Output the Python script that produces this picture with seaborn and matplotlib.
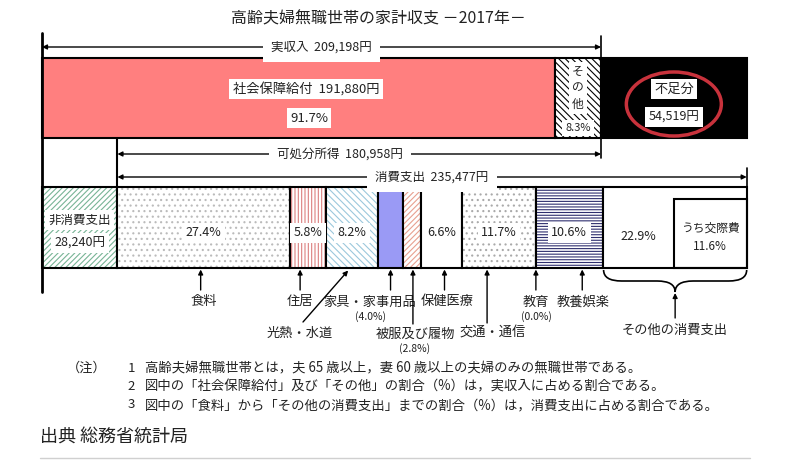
import numpy as np
import pandas as pd
import matplotlib
matplotlib.use('Agg')
import matplotlib.pyplot as plt
import seaborn as sns
from matplotlib.patches import Ellipse, PathPatch
from matplotlib.path import Path

# ---------------- data ----------------
income_labels = ['社会保障給付', 'その他']
income_values = [191880, 17318]
income_shares = [91.7, 8.3]
income_total = 209198
shortfall = 54519
disposable_income = 180958
nonconsumption = 28240
consumption_total = 235477
cons_categories = ['食料', '住居', '光熱・水道', '家具・家事用品', '被服及び履物',
                   '保健医療', '交通・通信', '教育', '教養娯楽', 'その他の消費支出']
cons_shares = [27.4, 5.8, 8.2, 4.0, 2.8, 6.6, 11.7, 0.0, 10.6, 22.9]
kosaihi_share = 11.6
title = '高齢夫婦無職世帯の家計収支 －2017年－'
notes = ['高齢夫婦無職世帯とは，夫 65 歳以上，妻 60 歳以上の夫婦のみの無職世帯である。',
         '図中の「社会保障給付」及び「その他」の割合（%）は，実収入に占める割合である。',
         '図中の「食料」から「その他の消費支出」までの割合（%）は，消費支出に占める割合である。']
source = '出典 総務省統計局'

# ---------------- style ----------------
sns.set_theme(style='white')
plt.rcParams['font.family'] = ['Noto Sans CJK JP', 'DejaVu Sans']
plt.rcParams['hatch.linewidth'] = 0.8

W, H = 800, 468
fig = plt.figure(figsize=(8, 4.68), dpi=100)
fig.patch.set_facecolor('white')
ax = fig.add_axes([0, 0, 1, 1])
K = income_total / 559.0          # yen per pixel
X0 = 42
ax.set_xlim(-X0 * K, (W - X0) * K)
ax.set_ylim(H, 0)
ax.axis('off')


def px(p):
    return (p - X0) * K


def seg(y, left, width, h, face, hatch=None, hcolor=None, lw=1.5):
    if hatch:
        ax.barh(y, width, left=left, height=h, color=face, edgecolor=hcolor,
                hatch=hatch, linewidth=0)
        ax.barh(y, width, left=left, height=h, fill=False, edgecolor='black', linewidth=lw)
    else:
        ax.barh(y, width, left=left, height=h, color=face, edgecolor='black', linewidth=lw)


def T(x, y, s, size=9, box=False, **kw):
    kw.setdefault('ha', 'center')
    kw.setdefault('va', 'center')
    if box:
        kw['bbox'] = dict(facecolor='white', edgecolor='none', pad=2.5)
    ax.text(x, y, s, fontsize=size, color='#222222', **kw)


def dim_arrow(x1, x2, y, label, lx):
    ax.annotate('', xy=(x1, y), xytext=(x2, y),
                arrowprops=dict(arrowstyle='<|-|>', lw=1, color='black',
                                mutation_scale=7, shrinkA=0, shrinkB=0))
    ax.text(lx, y, label, fontsize=9, ha='center', va='center', color='#222222',
            bbox=dict(facecolor='white', edgecolor='none', pad=6))


def up_arrow(x, y0, y1, xt=None):
    ax.annotate('', xy=(x, y1), xytext=(x if xt is None else xt, y0),
                arrowprops=dict(arrowstyle='-|>', lw=1, color='black',
                                mutation_scale=7, shrinkA=0, shrinkB=0))


# ---------------- title ----------------
T(px(378), 19, title, size=11.5)

# ---------------- top bar (income) ----------------
TY, TH = 98, 80
seg(TY, 0, income_values[0], TH, '#FF7F7F')
seg(TY, income_values[0], income_values[1], TH, 'white', hatch='\\\\\\\\\\', hcolor='black')
seg(TY, income_total, shortfall, TH, 'black')

T(px(306), 89, f'{income_labels[0]}  {income_values[0]:,}円', size=9.5, box=True)
T(px(309), 118, f'{income_shares[0]}%', size=9.5, box=True)
oc = income_values[0] + income_values[1] / 2
T(oc, 88, 'そ\nの\n他', size=8.5, box=True, linespacing=1.35)
T(oc, 128, f'{income_shares[1]}%', size=8, box=True)
sc = income_total + shortfall / 2
T(sc, 89, '不足分', size=9.5, box=True)
T(sc, 117, f'{shortfall:,}円', size=9, box=True)
ax.add_patch(Ellipse((sc, 104), width=95 * K, height=64, fill=False,
                     edgecolor='#C8323C', lw=2.5))

# ---------------- dimension arrows ----------------
dim_arrow(0, income_total, 47, f'実収入  {income_total:,}円', income_total / 2)
dim_arrow(nonconsumption, income_total, 154, f'可処分所得  {disposable_income:,}円',
          px(340))
dim_arrow(nonconsumption, nonconsumption + consumption_total, 177,
          f'消費支出  {consumption_total:,}円', nonconsumption + consumption_total / 2)

ax.plot([0, 0], [33, 292], color='black', lw=2)
ax.plot([income_total] * 2, [36, 58], color='black', lw=1.2)
ax.plot([income_total] * 2, [138, 158], color='black', lw=1.2)
ax.plot([nonconsumption] * 2, [138, 187], color='black', lw=1.5)
ax.plot([nonconsumption + consumption_total] * 2, [168, 187], color='black', lw=1.2)

# ---------------- bottom bar (spending) ----------------
BY, BH = 227.5, 81
seg(BY, 0, nonconsumption, BH, 'white', hatch='//////', hcolor='#78B496')
T(nonconsumption / 2, 220, '非消費支出', size=9, box=True)
T(nonconsumption / 2, 243, f'{nonconsumption:,}円', size=9, box=True)

styles = {
    '食料': ('white', '...', '#BBBBBB'),
    '住居': ('white', '|||||', '#DC8080'),
    '光熱・水道': ('white', '\\\\\\\\\\', '#9CC8DC'),
    '家具・家事用品': ('#9A9AF5', None, None),
    '被服及び履物': ('white', '//////', '#E8A090'),
    '保健医療': ('white', None, None),
    '交通・通信': ('white', '...', '#AAAAAA'),
    '教育': ('white', None, None),
    '教養娯楽': ('white', '------', '#2E2E6E'),
    'その他の消費支出': ('white', None, None),
}
lefts = nonconsumption + consumption_total * np.concatenate([[0], np.cumsum(cons_shares)[:-1]]) / 100
widths = consumption_total * np.array(cons_shares) / 100
centers = lefts + widths / 2
for cat, l, w in zip(cons_categories, lefts, widths):
    face, hatch, hc = styles[cat]
    seg(BY, l, w, BH, face, hatch=hatch, hcolor=hc)

# inner box (うち交際費)
kw_ = consumption_total * kosaihi_share / 100
kl = nonconsumption + consumption_total - kw_
ax.barh(233.5, kw_, left=kl, height=69, fill=False, edgecolor='black', linewidth=1.5)
T(kl + kw_ / 2, 228, 'うち交際費', size=8.5)
T(kl + kw_ / 2, 246, f'{kosaihi_share}%', size=8.5)

# percentage labels in bars
pct_y = 233
for i, cat in enumerate(cons_categories):
    if cat in ('教育', '家具・家事用品', '被服及び履物'):
        continue
    if cat == 'その他の消費支出':
        T(px(638), 236, f'{cons_shares[i]}%', size=9)
        continue
    T(centers[i], pct_y, f'{cons_shares[i]}%', size=9, box=True)

# ---------------- labels below ----------------
yb = 269.5
ci = {c: i for i, c in enumerate(cons_categories)}
# (arrow x offset px, arrow tail y, label x px, label y, sub label)
lab = {
    '食料': (-3, 290, 204, 302, None),
    '住居': (-8, 290, 300, 302, None),
    '家具・家事用品': (0, 290, 370, 302, '(4.0%)'),
    '被服及び履物': (1, 324, 415, 334, '(2.8%)'),
    '保健医療': (3, 290, 447, 302, None),
    '交通・通信': (-12, 323, 493, 333, None),
    '教育': (0, 290, 536, 302, '(0.0%)'),
    '教養娯楽': (13, 290, 583, 302, None),
}
for cat, (dx, y0, lx, ly, sub) in lab.items():
    x = centers[ci[cat]] + dx * K
    up_arrow(x, y0, yb)
    T(px(lx), ly, cat, size=9.5)
    if sub:
        T(px(lx), ly + 15, sub, size=7.5)

# 光熱・水道 diagonal arrow
c = centers[ci['光熱・水道']]
up_arrow(c - 4 * K, 322, yb + 1, xt=px(303))
T(px(300), 333, '光熱・水道', size=9.5)

# brace for その他の消費支出
bl = lefts[ci['その他の消費支出']] + 1 * K
br = nonconsumption + consumption_total
bm = (bl + br) / 2
d = 18 * K
verts = [(bl, 270), (bl, 281), (bl + d, 281), (bm - d, 281), (bm, 281), (bm, 292),
         (bm, 281), (bm + d, 281), (br - d, 281), (br, 281), (br, 270)]
codes = [Path.MOVETO, Path.CURVE3, Path.CURVE3, Path.LINETO, Path.CURVE3, Path.CURVE3,
         Path.CURVE3, Path.CURVE3, Path.LINETO, Path.CURVE3, Path.CURVE3]
ax.add_patch(PathPatch(Path(verts, codes), fill=False, edgecolor='black', lw=1.2))
up_arrow(bm, 318, 293)
T(bm, 330, 'その他の消費支出', size=9.5)

# ---------------- notes ----------------
T(px(87), 368, '（注）', size=9.5)
for i, (n, y) in enumerate(zip(notes, [368, 386, 405])):
    T(px(131), y, str(i + 1), size=9.5)
    T(px(145), y, n, size=9.6, ha='left')
T(px(40), 438, source, size=13, ha='left')
ax.plot([px(40), px(750)], [458, 458], color='#D0D0D0', lw=1)

fig.savefig('out.png', dpi=100, facecolor='white')
